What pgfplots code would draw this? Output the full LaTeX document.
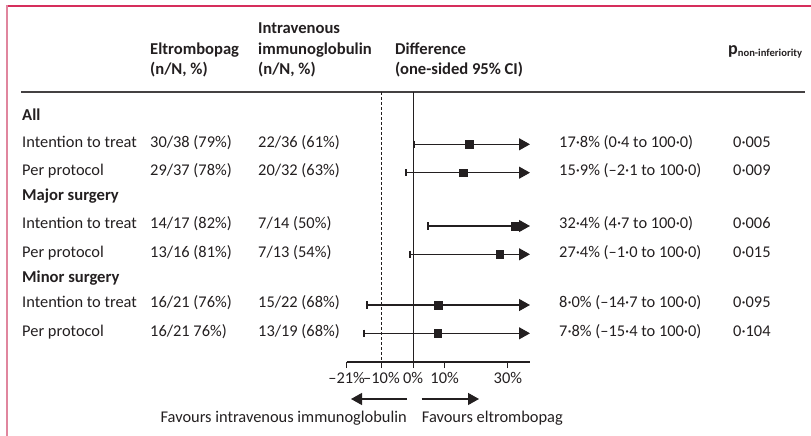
\documentclass[border=0pt]{standalone}
\usepackage{fontspec}
\setmainfont{Carlito}
\usepackage{pgfplots}
\pgfplotsset{compat=1.18}
\usetikzlibrary{arrows.meta}
\definecolor{txt}{HTML}{231F20}
\definecolor{topred}{HTML}{D62E5C}
\definecolor{leftpink}{HTML}{E0869E}
\newcommand{\T}[3]{\node[anchor=base west, inner sep=0pt] at (#1,#2) {#3};}
\newcommand{\B}[3]{\node[anchor=base west, inner sep=0pt, font=\fontsize{16.6}{19}\selectfont\bfseries] at (#1,#2) {#3};}

\pgfplotstableread{
est y lo
17.8 144.3 0.4
15.9 172.7 -2.1
32.4 226.0 4.7
27.4 254.3 -1.0
8.0 305.0 -14.7
7.8 333.3 -15.4
}\rows

\begin{document}
\begin{tikzpicture}[x=1pt,y=1pt, font=\fontsize{16.4}{19}\selectfont, text=txt]
\useasboundingbox (0,0) rectangle (811,436);
% frame
\draw[topred, line width=1.6pt] (6,430) -- (811,430);
\draw[leftpink, line width=2.2pt] (7,430.8) -- (7,0);
% header rule
\draw[txt!85, line width=1.1pt] (21,344) -- (805,344);

% headers
\B{150}{381}{Eltrombopag}
\B{150}{361}{(n/N, \%)}
\B{258}{402}{Intravenous}
\B{258}{381}{immunoglobulin}
\B{258}{361}{(n/N, \%)}
\B{395}{381}{Difference}
\B{395}{361}{(one-sided 95\% CI)}
\node[anchor=base west, inner sep=0pt] at (728,381) {\bfseries\fontsize{18}{19}\selectfont p\raisebox{-2pt}{\fontsize{10.6}{11}\selectfont non-inferiority}};

% section headers
\B{22}{315.5}{All}
\B{22}{235}{Major surgery}
\B{22}{153.3}{Minor surgery}

% row labels
\T{22}{288.7}{Intention to treat}
\T{22}{260.3}{Per protocol}
\T{22}{207}{Intention to treat}
\T{22}{178.7}{Per protocol}
\T{22}{128}{Intention to treat}
\T{22}{99.7}{Per protocol}

% eltrombopag
\T{150}{288.7}{30/38 (79\%)}
\T{150}{260.3}{29/37 (78\%)}
\T{150}{207}{14/17 (82\%)}
\T{150}{178.7}{13/16 (81\%)}
\T{150}{128}{16/21 (76\%)}
\T{150}{99.7}{16/21 76\%)}

% IVIg
\T{258}{288.7}{22/36 (61\%)}
\T{258}{260.3}{20/32 (63\%)}
\T{258}{207}{7/14 (50\%)}
\T{258}{178.7}{7/13 (54\%)}
\T{258}{128}{15/22 (68\%)}
\T{258}{99.7}{13/19 (68\%)}

% difference
\T{559}{288.7}{17·8\% (0·4 to 100·0)}
\T{559}{260.3}{15·9\% (–2·1 to 100·0)}
\T{559}{207}{32·4\% (4·7 to 100·0)}
\T{559}{178.7}{27·4\% (–1·0 to 100·0)}
\T{559}{128}{8·0\% (–14·7 to 100·0)}
\T{559}{99.7}{7·8\% (–15·4 to 100·0)}

% p values
\T{733}{288.7}{0·005}
\T{733}{260.3}{0·009}
\T{733}{207}{0·006}
\T{733}{178.7}{0·015}
\T{733}{128}{0·095}
\T{733}{99.7}{0·104}

\begin{axis}[
  at={(346.7pt,74pt)}, anchor=south west,
  scale only axis, width=183.3pt, height=270pt,
  xmin=-21, xmax=37, ymin=92, ymax=362, y dir=reverse,
  axis x line*=bottom, axis y line=none,
  axis line style={-, txt, line width=1.1pt},
  xtick={-21,-10,0,10,30},
  xticklabels={–21\%,–10\%,0\%,10\%,30\%},
  tick align=outside, major tick length=6pt,
  tick style={txt, line width=1.1pt},
  xticklabel style={font=\fontsize{16.4}{19}\selectfont, text=txt, inner sep=1pt, yshift=-3pt},
  clip=false,
]
\addplot[txt, line width=1pt, dash pattern=on 3pt off 2pt] coordinates {(-10,92) (-10,362)};
\addplot[txt, line width=1.1pt] coordinates {(0,92) (0,362)};
\addplot[txt, line width=1.3pt, -{Triangle[length=11pt,width=12pt]}] coordinates {(0.4,144.3) (37,144.3)};
\addplot[txt, line width=1.3pt, -{Triangle[length=11pt,width=12pt]}] coordinates {(-2.1,172.7) (37,172.7)};
\addplot[txt, line width=1.3pt, -{Triangle[length=11pt,width=12pt]}] coordinates {(4.7,226.0) (37,226.0)};
\addplot[txt, line width=1.3pt, -{Triangle[length=11pt,width=12pt]}] coordinates {(-1.0,254.3) (37,254.3)};
\addplot[txt, line width=1.3pt, -{Triangle[length=11pt,width=12pt]}] coordinates {(-14.7,305.0) (37,305.0)};
\addplot[txt, line width=1.3pt, -{Triangle[length=11pt,width=12pt]}] coordinates {(-15.4,333.3) (37,333.3)};
\addplot[only marks, mark=|, mark size=3.6pt, mark options={txt, line width=1.9pt}] table[x=lo, y=y] {\rows};
\addplot[only marks, mark=square*, mark size=3.8pt, mark options={txt, fill=txt}] table[x=est, y=y] {\rows};
\end{axis}

% favour arrows
\draw[txt, line width=1.3pt, -{Triangle[length=11pt,width=12pt]}] (407,37) -- (351,37);
\draw[txt, line width=1.3pt, -{Triangle[length=11pt,width=12pt]}] (421.7,37) -- (479,37);
\node[anchor=base east, inner sep=0pt] at (407,13) {Favours intravenous immunoglobulin};
\node[anchor=base west, inner sep=0pt] at (421.7,13) {Favours eltrombopag};
\end{tikzpicture}
\end{document}
